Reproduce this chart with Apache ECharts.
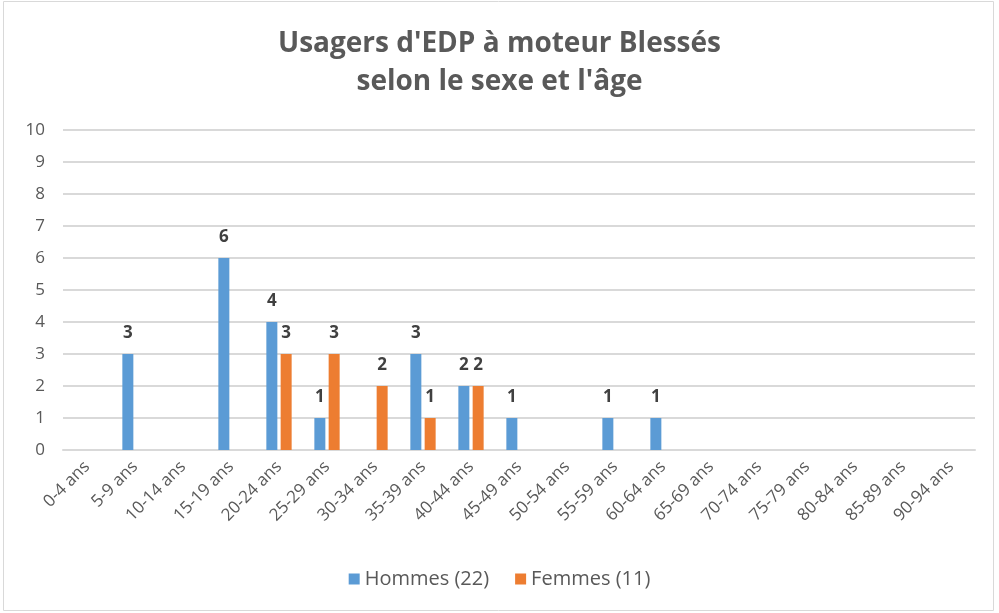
<!DOCTYPE html>
<html><head><meta charset="utf-8">
<script src="https://cdn.jsdelivr.net/npm/echarts@6/dist/echarts.min.js"></script>
<style>html,body{margin:0;padding:0;background:#fff}#c{width:999px;height:613px}</style>
</head><body><div id="c"></div>
<script>
const categories = ['0-4 ans','5-9 ans','10-14 ans','15-19 ans','20-24 ans','25-29 ans','30-34 ans','35-39 ans','40-44 ans','45-49 ans','50-54 ans','55-59 ans','60-64 ans','65-69 ans','70-74 ans','75-79 ans','80-84 ans','85-89 ans','90-94 ans'];
const hommes = [0,3,0,6,4,1,0,3,2,1,0,1,1,0,0,0,0,0,0];
const femmes = [0,0,0,0,3,3,2,1,2,0,0,0,0,0,0,0,0,0,0];
const seriesNames = ['Hommes (22)','Femmes (11)'];
const titleText = "Usagers d'EDP à moteur Blessés\nselon le sexe et l'âge";

const chart = echarts.init(document.getElementById('c'), null, {renderer:'canvas'});
const lbl = {show:true, position:'top', distance:12, color:'#404040', fontWeight:'bold', fontSize:17, fontFamily:'Open Sans',
  formatter: p => p.value ? String(p.value) : ''};
chart.setOption({
  animation:false,
  graphic:[{type:'rect', shape:{x:3.5,y:1.5,width:990,height:609}, style:{fill:'none', stroke:'#d9d9d9', lineWidth:1}, silent:true}],
  title:{text:titleText, left:'center', top:20, textStyle:{color:'#595959', fontSize:28, fontWeight:'bold', fontFamily:'Open Sans', lineHeight:38}},
  legend:{bottom:19, left:'center', itemWidth:11, itemHeight:11, itemGap:26, icon:'rect',
    textStyle:{color:'#595959', fontSize:20, fontFamily:'Open Sans'}},
  grid:{left:63, right:24, top:130, bottom:163},
  xAxis:{type:'category', data:categories, axisTick:{show:false},
    axisLine:{lineStyle:{color:'#d9d9d9', width:2}},
    axisLabel:{rotate:45, interval:0, color:'#595959', fontSize:17, fontFamily:'Open Sans', margin:14}},
  yAxis:{type:'value', min:0, max:10, interval:1,
    axisLabel:{color:'#595959', fontSize:17, fontFamily:'Open Sans', margin:18},
    splitLine:{lineStyle:{color:'#d9d9d9', width:2}}, axisLine:{show:false}},
  series:[
    {name:seriesNames[0], type:'bar', data:hommes, barWidth:11, barGap:'30%', itemStyle:{color:'#5b9bd5'}, label:lbl},
    {name:seriesNames[1], type:'bar', data:femmes, barWidth:11, itemStyle:{color:'#ed7d31'}, label:lbl}
  ]
});
</script></body></html>
